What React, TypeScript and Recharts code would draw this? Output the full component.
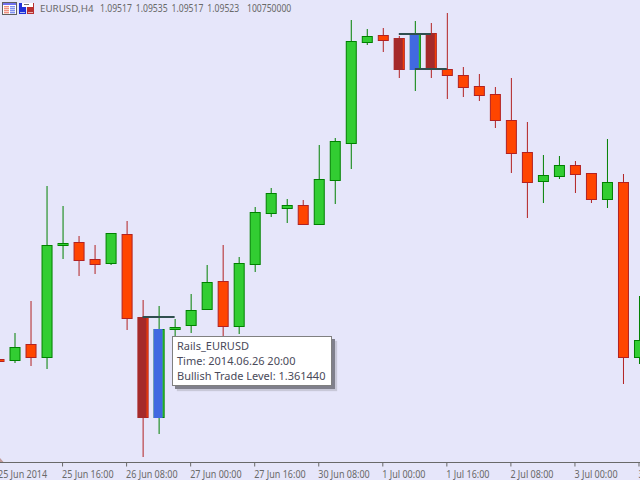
import React from "react";
import { ComposedChart, Bar, XAxis, YAxis, ReferenceLine } from "recharts";

const barTimes = [
  "2014.06.25 00:00","2014.06.25 04:00","2014.06.25 08:00","2014.06.25 12:00","2014.06.25 16:00","2014.06.25 20:00",
  "2014.06.26 00:00","2014.06.26 04:00","2014.06.26 08:00","2014.06.26 12:00","2014.06.26 16:00","2014.06.26 20:00",
  "2014.06.27 00:00","2014.06.27 04:00","2014.06.27 08:00","2014.06.27 12:00","2014.06.27 16:00","2014.06.27 20:00",
  "2014.06.30 00:00","2014.06.30 04:00","2014.06.30 08:00","2014.06.30 12:00","2014.06.30 16:00","2014.06.30 20:00",
  "2014.07.01 00:00","2014.07.01 04:00","2014.07.01 08:00","2014.07.01 12:00","2014.07.01 16:00","2014.07.01 20:00",
  "2014.07.02 00:00","2014.07.02 04:00","2014.07.02 08:00","2014.07.02 12:00","2014.07.02 16:00","2014.07.02 20:00",
  "2014.07.03 00:00","2014.07.03 04:00","2014.07.03 08:00","2014.07.03 12:00","2014.07.03 16:00",
];
const opens = [1.3606,1.36058,1.3609,1.36064,1.36288,1.36294,1.3626,1.36252,1.3631,1.36144,1.35944,1.3612,1.36128,1.3616,1.36216,1.36126,1.3625,1.36352,1.36362,1.36368,1.3633,1.36418,1.36492,1.36694,1.36708,1.36702,1.3664,1.36712,1.3664,1.36628,1.36606,1.3659,1.36538,1.36474,1.36416,1.36426,1.36448,1.36432,1.3638,1.36414,1.36064];
const closes = [1.36056,1.36084,1.36064,1.36288,1.36292,1.36258,1.3625,1.36312,1.36142,1.35944,1.3612,1.36124,1.36158,1.36214,1.36126,1.36252,1.36354,1.36392,1.36368,1.3633,1.3642,1.36496,1.36696,1.36706,1.36698,1.3664,1.36712,1.3664,1.36628,1.36604,1.36588,1.36538,1.36472,1.36414,1.36428,1.36448,1.3643,1.3638,1.36414,1.36064,1.36098];
const highs = [1.3606,1.36112,1.36176,1.36406,1.36366,1.36306,1.36288,1.36312,1.36336,1.36178,1.36166,1.3614,1.3619,1.36248,1.36288,1.36264,1.36364,1.36402,1.3638,1.36378,1.36488,1.36502,1.36738,1.3672,1.36722,1.36706,1.36736,1.36732,1.36752,1.36644,1.3663,1.36604,1.36622,1.36534,1.36468,1.36466,1.36456,1.36432,1.365,1.3643,1.36186];
const lows = [1.36056,1.36052,1.36046,1.3604,1.3626,1.36226,1.3623,1.36248,1.36118,1.35864,1.3591,1.36094,1.36112,1.3616,1.36102,1.3611,1.36234,1.36344,1.36332,1.3633,1.36328,1.3637,1.3644,1.36688,1.36674,1.36622,1.36596,1.36622,1.3658,1.36584,1.36576,1.36522,1.36432,1.36342,1.36372,1.3642,1.36392,1.36372,1.36362,1.3601,1.3605];

const bearRailBars = [9, 25, 27];
const bullRailBars = [10, 26];
const tradeLevels = [
  { from: 9, to: 11, price: 1.36144 },
  { from: 25, to: 27, price: 1.3671 },
  { from: 26, to: 28, price: 1.3664 },
];

const axisLabels = ["25 Jun 2014","25 Jun 16:00","26 Jun 08:00","27 Jun 00:00","27 Jun 16:00","30 Jun 08:00","1 Jul 00:00","1 Jul 16:00","2 Jul 08:00","3 Jul 00:00","3 Jul 16:00"];
const headerSymbol = "EURUSD,H4";
const headerQuotes = "1.09517 1.09535 1.09517 1.09523";
const headerVolume = "100750000";
const tooltipLines = ["Rails_EURUSD", "Time: 2014.06.26 20:00", "Bullish Trade Level: 1.361440"];

const BG = "#E6E6FA";
const GREY = "#696969";
const FONT = "'Noto Sans', sans-serif";

const rows = barTimes.map((time, i) => ({
  time, open: opens[i], close: closes[i], high: highs[i], low: lows[i], range: [lows[i], highs[i]],
  rail: bearRailBars.includes(i) ? "#A52A2A" : bullRailBars.includes(i) ? "#4169E1" : null,
}));
const tickTimes = barTimes.filter((_, i) => i % 4 === 0);

function Candle(props: any) {
  const { x, y, width, height, payload } = props;
  const { open, close, high, low, rail } = payload;
  const py = (p: number) => y + ((high - p) / (high - low)) * height;
  const cx = x + width / 2;
  const up = close >= open;
  const line = up ? "#008000" : "#B22222";
  const fill = up ? "#32CD32" : "#FF4500";
  const top = Math.round(py(Math.max(open, close))) + 0.5;
  const bot = Math.round(py(Math.min(open, close))) + 0.5;
  const railTop = Math.round(py(Math.max(open, close)));
  const railBot = Math.round(py(Math.min(open, close))) + 1;
  return (
    <g>
      <line x1={cx} x2={cx} y1={y} y2={y + height} stroke={line} strokeWidth={1} />
      <rect x={cx - 5} y={top} width={10} height={bot - top} fill={fill} stroke={line} strokeWidth={1} />
      {rail && <rect x={cx - 5.5} y={railTop} width={9} height={railBot - railTop} fill={rail} />}
    </g>
  );
}

function TimeTick(props: any) {
  const { x, y, payload } = props;
  const label = axisLabels[tickTimes.indexOf(payload.value)];
  return (
    <text transform={`translate(${x - 0.5},${y + 9.5}) scale(0.9,1)`} textAnchor="start" fill={GREY} fontFamily={FONT} fontSize={10}>
      {label}
    </text>
  );
}

const headerStyle: React.CSSProperties = {
  position: "absolute", top: 1, fontFamily: FONT, fontSize: 10, lineHeight: "15px", color: GREY,
  whiteSpace: "pre", transformOrigin: "left center",
};

export default function App() {
  return (
    <div style={{ position: "fixed", left: 0, top: 0, width: 640, height: 480, overflow: "hidden", background: BG }}>
      <div style={{ position: "absolute", left: -10, top: 0 }}>
        <ComposedChart
          width={657}
          height={480}
          data={rows}
          margin={{ top: 0, right: 0, bottom: 0, left: 0.5 }}
          barCategoryGap={0}
        >
          <XAxis
            dataKey="time"
            ticks={tickTimes}
            interval={0}
            tick={<TimeTick />}
            tickLine={{ stroke: GREY }}
            tickSize={4}
            axisLine={{ stroke: GREY }}
            height={17.5}
          />
          <YAxis hide domain={[1.35853, 1.36778]} type="number" allowDataOverflow />
          <Bar dataKey="range" barSize={11} shape={<Candle />} isAnimationActive={false} />
          {tradeLevels.map((l) => (
            <ReferenceLine
              key={l.from}
              segment={[{ x: barTimes[l.from], y: l.price }, { x: barTimes[l.to], y: l.price }]}
              stroke="#2F4F4F"
              strokeWidth={2}
            />
          ))}
        </ComposedChart>
      </div>
      <svg width={640} height={480} style={{ position: "absolute", left: 0, top: 0, pointerEvents: "none" }}>
        <rect x={2.5} y={2.5} width={14} height={12} fill="#fff" stroke="#606060" />
        <rect x={3} y={3} width={13} height={2} fill="#7070f0" />
        {[6, 8, 10, 12].map((sy) => (
          <g key={sy}>
            <rect x={4} y={sy} width={5} height={1.4} fill="#f09080" />
            <rect x={10} y={sy} width={5} height={1.4} fill="#8090f0" />
          </g>
        ))}
        <rect x={19} y={3} width={7} height={11} fill="#2030d8" />
        <rect x={27} y={3} width={7} height={11} fill="#b83030" />
        <rect x={20} y={12} width={5} height={1} fill="#b0b8f0" />
        <rect x={28} y={12} width={5} height={1} fill="#e8b0b0" />
        <rect x={22} y={3} width={11} height={4} fill="#fff" />
        <rect x={24} y={4} width={5} height={1} fill="#707070" />
        <polygon points="0,458 3.5,462 0,462" fill="#c09a9a" />
      </svg>
      <div style={{ ...headerStyle, left: 40, fontSize: 9.8 }}>{headerSymbol}</div>
      <div style={{ ...headerStyle, left: 100, transform: "scaleX(0.86)", wordSpacing: 2 }}>{headerQuotes}</div>
      <div style={{ ...headerStyle, left: 247, transform: "scaleX(0.86)" }}>{headerVolume}</div>
      <div style={{ position: "absolute", left: 172, top: 336, width: 158, height: 48, background: "#fff", border: "1px solid #808080", boxShadow: "3px 3px 0 #80808c, 5px 5px 1px #c8c8d8", fontFamily: FONT, fontSize: 11, lineHeight: "15px", color: "#4a4a5a", whiteSpace: "pre" }}>
        <div style={{ padding: "1px 0 0 4px" }}>
          {tooltipLines.map((t) => <div key={t}>{t}</div>)}
        </div>
      </div>
    </div>
  );
}
